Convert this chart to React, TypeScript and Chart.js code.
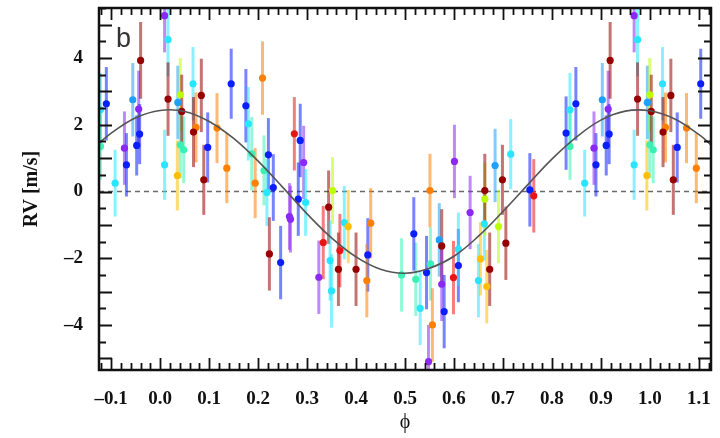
import { useEffect, useRef } from 'react';
import { Chart, registerables } from 'chart.js';

Chart.register(...registerables);

// ---- data ----
const PHASE = [
  -0.122, -0.122, -0.110, -0.092, -0.069, -0.073, -0.056, -0.044, -0.042, -0.048,
  -0.040, 0.009, 0.009, 0.016, 0.016, 0.035, 0.036, 0.041, 0.041, 0.048,
  0.044, 0.067, 0.073, 0.068, 0.084, 0.089, 0.097, 0.116, 0.136, 0.145,
  0.175, 0.180, 0.187, 0.194, 0.209, 0.212, 0.221, 0.218, 0.231, 0.223,
  0.246, 0.264, 0.266, 0.274, 0.286, 0.293, 0.282, 0.297, 0.352, 0.344,
  0.333, 0.324, 0.347, 0.350, 0.364, 0.367, 0.376, 0.384, 0.400, 0.424,
  0.430, 0.422, 0.493, 0.522, 0.518, 0.531, 0.544, 0.552, 0.556, 0.548,
  0.570, 0.575, 0.575, 0.580, 0.599, 0.609, 0.609, 0.633, 0.650, 0.654,
  0.667, 0.673, 0.662, 0.663, 0.691, 0.706, 0.755, 0.763, 0.551, 0.601,
  0.684, 0.663, 0.699, 0.716, 0.829,
];

const RV = [
  2.45, 1.35, 2.63, 0.25, 0.80, 1.30, 2.75, 2.47, 1.72, 1.38,
  3.93, 0.80, 5.27, 4.55, 2.77, 0.48, 2.67, 2.90, 1.40, 1.25,
  2.40, 3.23, 1.92, 1.78, 2.88, 0.35, 1.32, 1.90, 0.70, 3.23,
  2.57, 2.03, 1.13, 0.25, 3.40, 0.63, 1.10, -0.03, 0.12, -1.87,
  -2.13, -0.75, -0.83, 1.73, 1.53, 0.87, -0.23, -0.33, 0.03, -0.47,
  -1.53, -2.57, -2.07, -2.98, -2.33, -1.77, -0.93, -1.05, -2.33, -1.90,
  -0.95, -2.67, -2.50, -2.63, -1.27, -3.50, -2.43, -2.17, -4.00, -5.10,
  -1.45, -1.63, -2.78, -3.60, -2.58, -2.22, -1.73, -0.63, -2.67, -2.02,
  -2.85, -2.33, -0.97, -0.23, -1.05, -1.55, 0.05, -0.13, 0.03, 0.90,
  0.78, 0.03, 0.35, 1.12, 1.75,
];

const RV_ERR = [
  1.1, 1.0, 1.1, 1.0, 0.95, 1.1, 1.1, 1.15, 0.9, 0.9,
  1.15, 1.05, 1.1, 1.1, 1.1, 1.05, 1.1, 1.1, 1.0, 1.0,
  1.1, 1.1, 1.05, 1.05, 1.1, 1.05, 1.05, 1.05, 1.05, 1.05,
  1.1, 1.1, 1.1, 1.05, 1.1, 1.05, 1.1, 1.0, 1.0, 1.1,
  1.1, 1.0, 1.0, 1.1, 1.1, 1.1, 1.1, 1.0, 1.0, 1.1,
  1.1, 1.1, 1.2, 1.1, 1.1, 1.1, 1.1, 1.1, 1.1, 1.1,
  1.05, 1.1, 1.1, 1.1, 1.1, 1.1, 1.1, 1.1, 1.1, 1.1,
  1.1, 1.1, 1.1, 1.1, 1.1, 1.1, 1.1, 1.1, 1.1, 1.1,
  1.1, 1.1, 1.1, 1.1, 1.1, 1.1, 1.1, 1.1, 1.1, 1.1,
  1.1, 1.1, 1.05, 1.05, 1.1,
];

// P purple, B blue, L light blue, C cyan, A aquamarine, G yellow-green, Y yellow, O orange, R red, D dark red
const POINT_COLOR = [
  'C', 'A', 'B', 'C', 'B', 'P', 'L', 'P', 'B', 'B',
  'D', 'C', 'P', 'C', 'D', 'Y', 'L', 'G', 'A', 'A',
  'D', 'C', 'O', 'D', 'D', 'D', 'B', 'O', 'O', 'B',
  'B', 'C', 'A', 'O', 'O', 'A', 'B', 'C', 'B', 'D',
  'B', 'P', 'P', 'R', 'B', 'P', 'B', 'C', 'G', 'D',
  'R', 'P', 'C', 'C', 'D', 'R', 'C', 'Y', 'D', 'B',
  'O', 'O', 'A', 'A', 'B', 'C', 'B', 'A', 'O', 'P',
  'L', 'D', 'P', 'B', 'R', 'B', 'C', 'P', 'C', 'Y',
  'Y', 'D', 'C', 'G', 'G', 'D', 'B', 'R', 'O', 'P',
  'L', 'D', 'D', 'C', 'B',
];

// phase shift between repeated copies of the folded data (as drawn)
const FOLD_SHIFT = 0.959;

const MODEL_PHASE = [
  -0.125, -0.1, -0.05, 0, 0.05, 0.1, 0.15, 0.2, 0.25, 0.3, 0.35, 0.4, 0.45, 0.5,
  0.55, 0.6, 0.65, 0.7, 0.75, 0.8, 0.85, 0.9, 0.95, 1.0, 1.05, 1.1, 1.125,
];
const MODEL_RV = [
  1.45, 1.75, 2.21, 2.43, 2.40, 2.10, 1.59, 0.91, 0.13, -0.67, -1.39, -1.96, -2.33, -2.45,
  -2.30, -1.94, -1.34, -0.60, 0.19, 0.97, 1.63, 2.14, 2.41, 2.42, 2.18, 1.71, 1.40,
];

const X_MIN = -0.125;
const X_MAX = 1.125;
const Y_MIN = -5.35;
const Y_MAX = 5.5;
const X_TICKS = [-0.1, 0.0, 0.1, 0.2, 0.3, 0.4, 0.5, 0.6, 0.7, 0.8, 0.9, 1.0, 1.1];
const Y_TICKS = [-4, -2, 0, 2, 4];

const PALETTE: Record<string, number[]> = {
  P: [140, 40, 245],
  B: [10, 30, 255],
  L: [30, 160, 255],
  C: [40, 230, 255],
  A: [60, 240, 180],
  G: [190, 255, 0],
  Y: [255, 190, 0],
  O: [255, 128, 0],
  R: [235, 20, 20],
  D: [150, 0, 0],
};

const rgba = (k: string, a: number) => {
  const c = PALETTE[k];
  return `rgba(${c[0]},${c[1]},${c[2]},${a})`;
};

const fmt = (v: number, d: number) =>
  v < 0 ? '\u2013' + Math.abs(v).toFixed(d) : v.toFixed(d);

type Pt = { x: number; y: number; e: number; c: string };

function buildPoints(): Pt[] {
  const pts: Pt[] = [];
  for (let i = 0; i < PHASE.length; i++) {
    pts.push({ x: PHASE[i], y: RV[i], e: RV_ERR[i], c: POINT_COLOR[i] });
  }
  for (let i = 0; i < PHASE.length; i++) {
    const xs = PHASE[i] + FOLD_SHIFT;
    if (xs <= X_MAX) pts.push({ x: xs, y: RV[i], e: RV_ERR[i], c: POINT_COLOR[i] });
  }
  return pts;
}

const SERIF = '"Liberation Serif", "Times New Roman", "DejaVu Serif", serif';

export default function App() {
  const ref = useRef<HTMLCanvasElement | null>(null);

  useEffect(() => {
    if (!ref.current) return;
    const points = buildPoints();

    const underlay = {
      id: 'underlay',
      beforeDatasetsDraw(chart: any) {
        const { ctx, chartArea: a, scales } = chart;
        const x = scales.x;
        const y = scales.y;
        ctx.save();
        ctx.beginPath();
        ctx.rect(a.left, a.top, a.right - a.left, a.bottom - a.top);
        ctx.clip();
        // dashed zero line
        const y0 = y.getPixelForValue(0);
        ctx.setLineDash([5, 4]);
        ctx.strokeStyle = '#6a6a6a';
        ctx.lineWidth = 1.5;
        ctx.beginPath();
        ctx.moveTo(a.left, y0);
        ctx.lineTo(a.right, y0);
        ctx.stroke();
        ctx.setLineDash([]);
        // error bars
        ctx.lineWidth = 3;
        ctx.lineCap = 'butt';
        for (const p of points) {
          const px = x.getPixelForValue(p.x);
          ctx.strokeStyle = rgba(p.c, 0.55);
          ctx.beginPath();
          ctx.moveTo(px, y.getPixelForValue(p.y - p.e));
          ctx.lineTo(px, y.getPixelForValue(p.y + p.e));
          ctx.stroke();
        }
        ctx.restore();
      },
    };

    const frame = {
      id: 'frame',
      afterDraw(chart: any) {
        const { ctx, chartArea: a, scales } = chart;
        const x = scales.x;
        const y = scales.y;
        ctx.save();
        ctx.strokeStyle = '#111';
        ctx.lineWidth = 1.8;
        // x ticks every 0.02, major every 0.1
        for (let k = -6; k <= 56; k++) {
          const v = k * 0.02;
          if (v < X_MIN || v > X_MAX) continue;
          const px = Math.round(x.getPixelForValue(v)) + 0.5;
          const len = k % 5 === 0 ? 12 : 7;
          ctx.beginPath();
          ctx.moveTo(px, a.bottom);
          ctx.lineTo(px, a.bottom - len);
          ctx.moveTo(px, a.top);
          ctx.lineTo(px, a.top + len);
          ctx.stroke();
        }
        // y ticks every 0.5, major every 1
        for (let k = -10; k <= 11; k++) {
          const v = k * 0.5;
          if (v < Y_MIN || v > Y_MAX) continue;
          const py = Math.round(y.getPixelForValue(v)) + 0.5;
          const len = k % 2 === 0 ? 13 : 7;
          ctx.beginPath();
          ctx.moveTo(a.left, py);
          ctx.lineTo(a.left + len, py);
          ctx.moveTo(a.right, py);
          ctx.lineTo(a.right - len, py);
          ctx.stroke();
        }
        // frame
        ctx.lineWidth = 2.5;
        ctx.strokeRect(a.left, a.top, a.right - a.left, a.bottom - a.top);
        // panel letter
        ctx.fillStyle = '#333';
        ctx.font = '27px "Liberation Sans", Arial, sans-serif';
        ctx.textAlign = 'left';
        ctx.textBaseline = 'alphabetic';
        ctx.fillText('b', a.left + 17, a.top + 39);
        ctx.restore();
      },
    };

    const chart = new Chart(ref.current, {
      data: {
        datasets: [
          {
            type: 'line',
            data: MODEL_PHASE.map((p, i) => ({ x: p, y: MODEL_RV[i] })),
            borderColor: '#555',
            borderWidth: 1.6,
            pointRadius: 0,
            tension: 0.4,
            fill: false,
            order: 0,
          } as any,
          {
            type: 'scatter',
            data: points.map((p) => ({ x: p.x, y: p.y })),
            backgroundColor: points.map((p) => rgba(p.c, 1)),
            borderColor: points.map((p) => rgba(p.c, 1)),
            borderWidth: 0,
            pointRadius: 3.6,
            order: 1,
          } as any,
        ],
      },
      options: {
        responsive: false,
        animation: false,
        devicePixelRatio: 1,
        layout: { padding: { left: 0, right: 9, top: 8, bottom: 0 } },
        plugins: {
          legend: { display: false },
          tooltip: { enabled: false },
        },
        scales: {
          x: {
            type: 'linear',
            position: 'bottom',
            min: X_MIN,
            max: X_MAX,
            grid: { display: false, drawTicks: false },
            border: { display: false },
            afterBuildTicks: (s: any) => {
              s.ticks = X_TICKS.map((v) => ({ value: v }));
            },
            afterFit: (s: any) => {
              s.height = 68;
              s.paddingLeft = 0;
              s.paddingRight = 0;
              s.paddingTop = 0;
              s.paddingBottom = 0;
            },
            ticks: {
              autoSkip: false,
              maxRotation: 0,
              padding: 18,
              color: '#111',
              font: { family: SERIF, weight: 'bold', size: 19 },
              callback: (v: any) => fmt(Number(v), 1),
            },
            title: {
              display: true,
              text: '\u03D5',
              color: '#111',
              font: { family: SERIF, size: 20 },
              padding: { top: 0, bottom: 3 },
            },
          },
          y: {
            type: 'linear',
            position: 'left',
            min: Y_MIN,
            max: Y_MAX,
            grid: { display: false, drawTicks: false },
            border: { display: false },
            afterBuildTicks: (s: any) => {
              s.ticks = Y_TICKS.map((v) => ({ value: v }));
            },
            afterFit: (s: any) => {
              s.width = 99;
              s.paddingLeft = 0;
              s.paddingRight = 0;
              s.paddingTop = 0;
              s.paddingBottom = 0;
            },
            ticks: {
              autoSkip: false,
              padding: 16,
              color: '#111',
              font: { family: SERIF, weight: 'bold', size: 19 },
              callback: (v: any) => fmt(Number(v), 0),
            },
            title: {
              display: true,
              text: 'RV [m/s]',
              color: '#111',
              font: { family: SERIF, weight: 'bold', size: 20 },
              padding: { top: 20, bottom: 0 },
            },
          },
        },
      } as any,
      plugins: [underlay, frame],
    });

    return () => chart.destroy();
  }, []);

  return (
    <div style={{ position: 'fixed', left: 0, top: 0, width: 720, height: 438, background: '#fff' }}>
      <canvas ref={ref} width={720} height={438} style={{ display: 'block' }} />
    </div>
  );
}
